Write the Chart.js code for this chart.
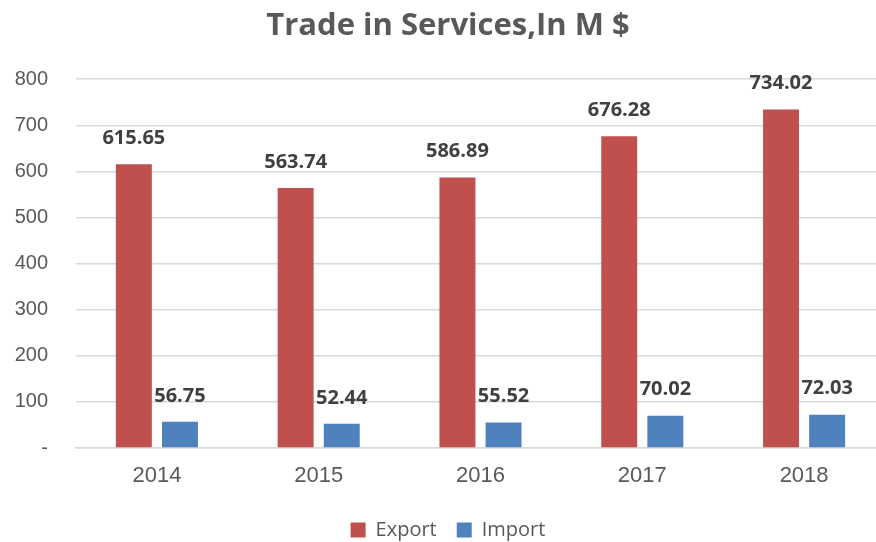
<!DOCTYPE html>
<html>
<head>
    <title>Trade in Services</title>
    <script src="https://cdn.jsdelivr.net/npm/chart.js"></script>
    <style>
        html, body { margin: 0; padding: 0; background: #fff; }
        #chart-container { width: 876px; height: 542px; }
    </style>
</head>
<body>
<div id="chart-container">
    <canvas id="tradeChart"></canvas>
</div>

<script>
    // values
    const years = ['2014', '2015', '2016', '2017', '2018'];
    const exportValues = [615.65, 563.74, 586.89, 676.28, 734.02];
    const importValues = [56.75, 52.44, 55.52, 70.02, 72.03];
    const yTicks = [0, 100, 200, 300, 400, 500, 600, 700, 800];

    const textGrey = '#595959';
    const fontName = "'Open Sans', 'Liberation Sans', sans-serif";
    const axisFont = "'Liberation Sans', Arial, sans-serif";

    // the original plot runs a little past the right edge of the picture
    const widerX = {
        id: 'widerX',
        afterLayout(chart) {
            const x = chart.scales.x;
            x.right = x.left + 809;
            x.width = 809;
            x.configure();
        }
    };

    // draws the bold value labels above each bar
    const valueLabels = {
        id: 'valueLabels',
        afterDatasetsDraw(chart) {
            const c = chart.ctx;
            c.save();
            c.font = 'bold 20px ' + fontName;
            c.fillStyle = '#404040';
            c.textAlign = 'center';
            c.textBaseline = 'middle';
            chart.data.datasets.forEach((ds, i) => {
                chart.getDatasetMeta(i).data.forEach((bar, j) => {
                    c.fillText(ds.data[j].toFixed(2), bar.x, bar.y - 26);
                });
            });
            c.restore();
        }
    };

    const ctx = document.getElementById('tradeChart').getContext('2d');
    const tradeChart = new Chart(ctx, {
        type: 'bar',
        data: {
            labels: years,
            datasets: [{
                label: 'Export',
                data: exportValues,
                backgroundColor: '#C0504D',
                categoryPercentage: 0.57,
                barPercentage: 0.78
            }, {
                label: 'Import',
                data: importValues,
                backgroundColor: '#4F81BD',
                categoryPercentage: 0.57,
                barPercentage: 0.78
            }]
        },
        options: {
            responsive: true,
            maintainAspectRatio: false,
            animation: false,
            layout: { padding: { top: 8, right: -10, bottom: -8, left: 10 } },
            plugins: {
                title: {
                    display: true,
                    text: 'Trade in Services,In M $',
                    color: textGrey,
                    font: { family: fontName, size: 31, weight: 'bold' },
                    padding: { top: 0, bottom: 34 }
                },
                legend: {
                    position: 'bottom',
                    labels: {
                        color: textGrey,
                        font: { family: fontName, size: 20 },
                        boxWidth: 15,
                        boxHeight: 15,
                        padding: 20
                    }
                },
                tooltip: { enabled: false }
            },
            scales: {
                x: {
                    grid: { display: false, drawTicks: false },
                    border: { color: '#D9D9D9', width: 1.5 },
                    ticks: {
                        color: textGrey,
                        font: { family: axisFont, size: 22 },
                        padding: 15
                    },
                    afterFit(scale) { scale.height = 52; }
                },
                y: {
                    min: 0,
                    max: 800,
                    afterBuildTicks(scale) {
                        scale.ticks = yTicks.map(v => ({ value: v }));
                    },
                    grid: { color: '#D9D9D9', lineWidth: 1.5, drawTicks: false },
                    border: { display: false },
                    ticks: {
                        color: textGrey,
                        font: { family: axisFont, size: 20 },
                        padding: 28,
                        callback: v => v === 0 ? '-' : v
                    },
                    afterFit(scale) { scale.width = 66; }
                }
            }
        },
        plugins: [widerX, valueLabels]
    });
</script>
</body>
</html>
